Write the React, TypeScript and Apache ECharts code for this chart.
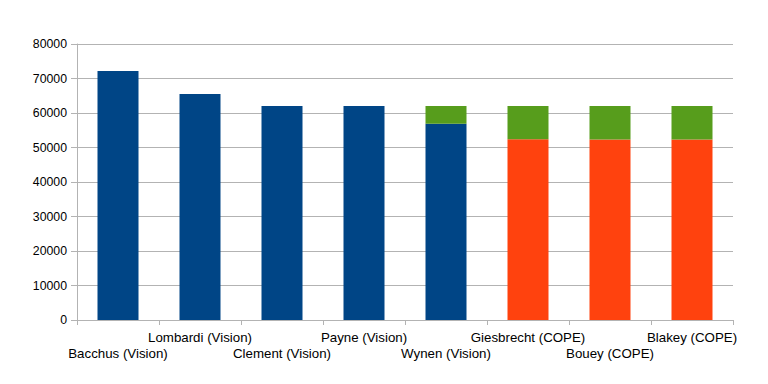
import React, { useEffect, useRef } from "react";
import * as echarts from "echarts";

const categories = [
  "Bacchus (Vision)",
  "Lombardi (Vision)",
  "Clement (Vision)",
  "Payne (Vision)",
  "Wynen (Vision)",
  "Giesbrecht (COPE)",
  "Bouey (COPE)",
  "Blakey (COPE)",
];
const visionValues = [72200, 65500, 62000, 62000, 56900, null, null, null];
const copeValues = [null, null, null, null, null, 52400, 52300, 52300];
const topValues = [null, null, null, null, 5100, 9600, 9700, 9700];

export default function App() {
  const ref = useRef<HTMLDivElement>(null);
  useEffect(() => {
    if (!ref.current) return;
    const chart = echarts.init(ref.current, null, { renderer: "svg" });
    const gray = "#b3b3b3";
    chart.setOption({
      animation: false,
      textStyle: { fontFamily: "Liberation Sans, Arial, sans-serif" },
      grid: { left: 77, right: 35, top: 44, bottom: 64 },
      xAxis: {
        type: "category",
        data: categories,
        axisLine: { lineStyle: { color: gray, width: 1 } },
        axisTick: { show: true, length: 5, lineStyle: { color: gray }, alignWithLabel: false },
        axisLabel: {
          interval: 0,
          color: "#000",
          fontSize: 13.3,
          lineHeight: 16,
          margin: 9,
          formatter: (v: string, i: number) => (i % 2 === 0 ? "\n" + v : v),
        },
      },
      yAxis: {
        type: "value",
        min: 0,
        max: 80000,
        interval: 10000,
        axisLine: { show: true, lineStyle: { color: gray } },
        axisTick: { show: true, length: 6, lineStyle: { color: gray } },
        splitLine: { lineStyle: { color: gray } },
        axisLabel: { color: "#000", fontSize: 12.3, margin: 10, formatter: (v: number) => String(v) },
      },
      series: [
        { type: "bar", stack: "a", data: visionValues, barWidth: "50%", itemStyle: { color: "#004586" } },
        { type: "bar", stack: "a", data: copeValues, barWidth: "50%", itemStyle: { color: "#ff420e" } },
        { type: "bar", stack: "a", data: topValues, barWidth: "50%", itemStyle: { color: "#579d1c" } },
      ],
    });
    return () => chart.dispose();
  }, []);
  return (
    <div
      ref={ref}
      style={{ position: "absolute", left: 0, top: 0, width: 768, height: 384, background: "#fff" }}
    />
  );
}
